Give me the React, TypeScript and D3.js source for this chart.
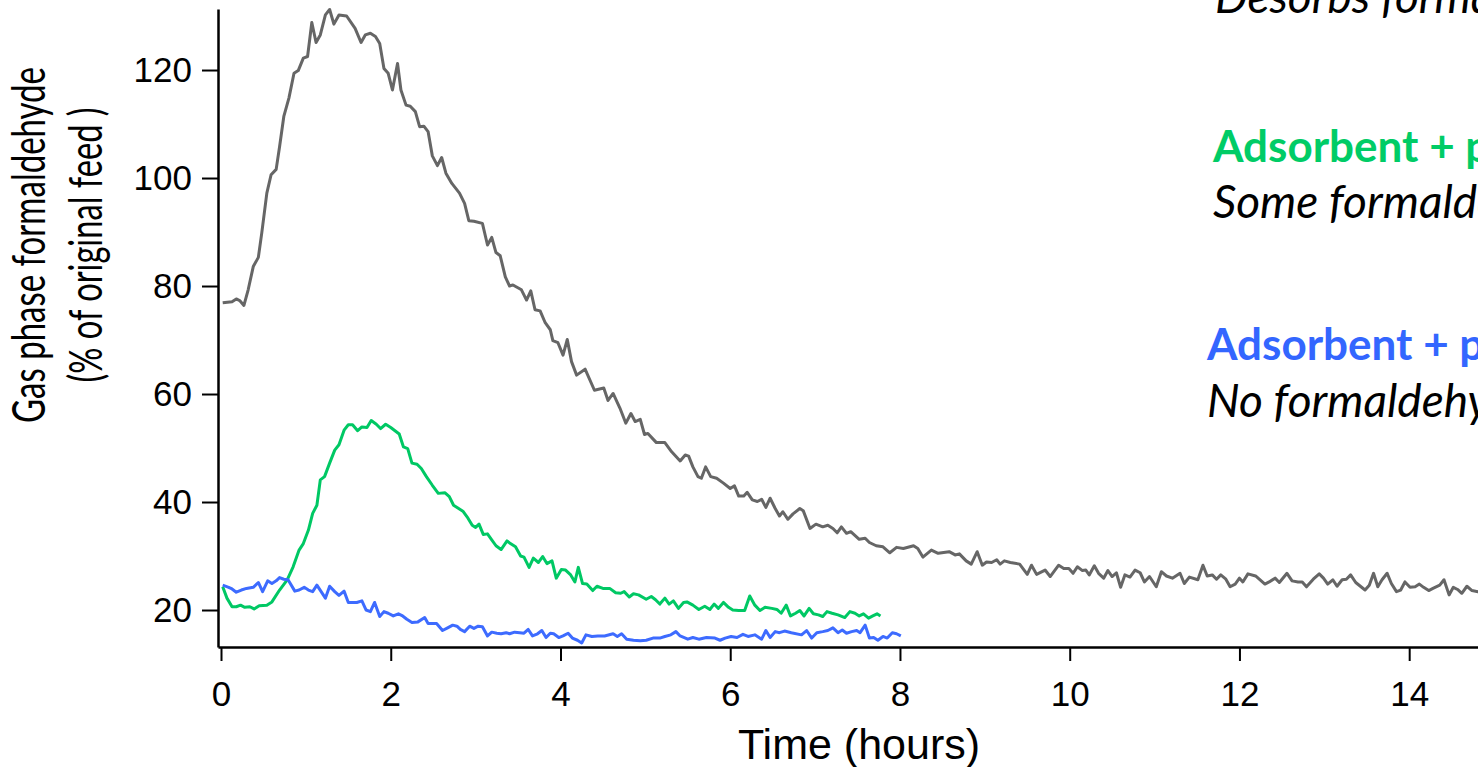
import React, { useEffect, useRef } from "react";
import * as d3 from "d3";

// [time (hours), gas phase formaldehyde (% of original feed)]
const adsorbentOnly: [number, number][] = [
  [0.02, 76.9], [0.13, 77.1], [0.18, 77.6], [0.22, 77.3], [0.27, 76.4], [0.32, 79.3], [0.38, 83.6],
  [0.44, 85.3], [0.48, 89.8], [0.54, 97.2], [0.59, 100.6], [0.65, 101.6], [0.69, 105.8], [0.74, 111.4],
  [0.8, 114.8], [0.86, 119.4], [0.91, 119.9], [0.97, 122.2], [1.02, 122.5], [1.07, 128.8], [1.12, 125.1],
  [1.17, 126.5], [1.23, 130.2], [1.28, 131.2], [1.33, 128.5], [1.39, 130.2], [1.48, 130.0], [1.58, 127.7],
  [1.65, 125.1], [1.7, 126.5], [1.76, 126.8], [1.82, 126.2], [1.87, 124.9], [1.92, 120.3], [1.97, 119.4],
  [2.02, 116.3], [2.08, 121.2], [2.12, 116.3], [2.18, 113.5], [2.23, 113.3], [2.29, 112.3], [2.34, 109.5],
  [2.39, 109.6], [2.44, 108.6], [2.49, 104.1], [2.55, 102.3], [2.6, 103.8], [2.65, 100.9], [2.72, 99.0],
  [2.81, 97.2], [2.87, 95.3], [2.92, 92.1], [2.98, 92.0], [3.08, 91.6], [3.14, 87.6], [3.19, 89.0],
  [3.24, 86.2], [3.29, 85.6], [3.35, 81.7], [3.4, 80.0], [3.44, 80.2], [3.54, 79.3], [3.6, 77.4],
  [3.65, 79.1], [3.7, 75.6], [3.76, 75.4], [3.82, 73.2], [3.88, 71.9], [3.91, 69.9], [3.97, 69.5],
  [4.03, 67.2], [4.08, 70.1], [4.13, 66.0], [4.19, 63.5], [4.29, 64.6], [4.4, 60.7], [4.51, 61.1],
  [4.56, 58.8], [4.62, 60.1], [4.7, 57.4], [4.77, 54.6], [4.83, 56.4], [4.88, 54.9], [4.94, 55.3],
  [4.99, 52.5], [5.03, 52.7], [5.13, 51.0], [5.23, 51.0], [5.31, 49.3], [5.41, 47.6], [5.47, 48.7],
  [5.51, 48.5], [5.56, 46.5], [5.62, 44.7], [5.66, 44.4], [5.71, 46.5], [5.77, 44.7], [5.84, 44.4],
  [5.92, 43.5], [6.0, 42.5], [6.05, 43.0], [6.1, 41.1], [6.16, 41.1], [6.2, 41.8], [6.26, 40.4],
  [6.32, 40.1], [6.37, 40.5], [6.42, 39.0], [6.47, 40.7], [6.53, 38.8], [6.58, 37.4], [6.62, 38.2],
  [6.68, 36.8], [6.74, 37.8], [6.82, 38.8], [6.86, 38.4], [6.94, 35.1], [7.01, 35.9], [7.09, 35.4],
  [7.15, 35.7], [7.21, 35.1], [7.26, 34.3], [7.31, 35.4], [7.37, 34.2], [7.42, 34.5], [7.52, 33.1],
  [7.59, 33.3], [7.64, 32.5], [7.72, 31.9], [7.8, 31.7], [7.88, 30.6], [7.96, 31.6], [8.04, 31.4],
  [8.16, 31.9], [8.21, 31.4], [8.27, 29.8], [8.37, 31.1], [8.45, 30.5], [8.58, 30.8], [8.65, 30.2],
  [8.7, 30.4], [8.78, 29.1], [8.84, 28.5], [8.91, 30.8], [8.97, 28.3], [9.02, 28.9], [9.08, 28.8],
  [9.14, 29.3], [9.18, 28.5], [9.23, 29.1], [9.3, 28.8], [9.41, 28.5], [9.5, 26.6], [9.55, 28.3],
  [9.61, 26.6], [9.71, 27.4], [9.77, 26.2], [9.87, 28.3], [9.93, 27.7], [9.99, 27.7], [10.04, 26.8],
  [10.09, 28.0], [10.15, 27.3], [10.19, 27.4], [10.23, 26.5], [10.29, 28.2], [10.34, 26.8], [10.4, 25.9],
  [10.45, 27.3], [10.5, 26.2], [10.55, 26.9], [10.6, 24.2], [10.65, 26.5], [10.71, 26.1], [10.77, 27.4],
  [10.83, 26.9], [10.88, 25.2], [10.94, 26.2], [11.02, 24.3], [11.08, 27.1], [11.14, 26.3], [11.21, 25.9],
  [11.3, 26.8], [11.35, 24.9], [11.41, 26.1], [11.51, 25.6], [11.57, 28.3], [11.62, 26.3], [11.68, 26.5],
  [11.73, 25.7], [11.78, 26.5], [11.84, 25.7], [11.89, 24.3], [11.95, 24.8], [12.0, 25.9], [12.04, 25.2],
  [12.1, 26.7], [12.19, 26.3], [12.3, 24.8], [12.35, 25.2], [12.42, 25.9], [12.47, 25.1], [12.56, 26.8],
  [12.62, 25.4], [12.69, 25.2], [12.74, 25.2], [12.79, 24.3], [12.87, 25.7], [12.94, 26.7], [12.99, 25.9],
  [13.04, 24.8], [13.1, 25.6], [13.15, 24.4], [13.21, 25.6], [13.26, 25.7], [13.31, 26.5], [13.37, 25.1],
  [13.48, 23.7], [13.53, 24.6], [13.58, 26.8], [13.63, 24.3], [13.68, 25.6], [13.74, 26.8], [13.79, 24.9],
  [13.85, 23.4], [13.9, 23.7], [13.95, 25.2], [14.01, 24.2], [14.07, 24.3], [14.12, 24.8], [14.17, 24.2],
  [14.23, 23.6], [14.28, 24.0], [14.36, 24.6], [14.41, 25.6], [14.47, 22.8], [14.52, 24.2], [14.57, 23.8],
  [14.62, 23.1], [14.68, 24.4], [14.74, 23.6], [14.81, 23.4], [14.9, 23.9],
];

const adsorbentDark: [number, number][] = [
  [0.02, 24.3], [0.07, 22.2], [0.13, 20.6], [0.18, 20.6], [0.23, 20.9], [0.28, 20.5], [0.34, 20.6],
  [0.39, 20.2], [0.45, 20.8], [0.54, 20.9], [0.6, 21.5], [0.69, 23.7], [0.78, 25.6], [0.85, 28.0],
  [0.92, 31.1], [0.97, 32.3], [1.03, 34.8], [1.08, 37.9], [1.13, 39.4], [1.17, 44.1], [1.22, 44.7],
  [1.28, 47.2], [1.34, 49.6], [1.39, 50.6], [1.45, 53.3], [1.5, 54.3], [1.55, 54.3], [1.61, 53.2],
  [1.66, 53.9], [1.72, 53.8], [1.77, 55.1], [1.83, 54.4], [1.88, 53.6], [1.94, 54.4], [2.0, 53.8],
  [2.05, 53.2], [2.1, 52.6], [2.15, 50.2], [2.2, 49.9], [2.25, 47.2], [2.31, 47.0], [2.36, 46.2],
  [2.42, 44.7], [2.49, 43.1], [2.56, 41.6], [2.64, 41.7], [2.69, 41.0], [2.74, 39.4], [2.8, 38.8],
  [2.85, 38.3], [2.91, 37.0], [2.96, 35.7], [3.0, 35.3], [3.04, 35.9], [3.09, 34.0], [3.14, 34.1],
  [3.19, 33.0], [3.24, 31.9], [3.3, 31.2], [3.37, 32.8], [3.41, 32.3], [3.47, 31.7], [3.53, 30.0],
  [3.57, 29.8], [3.63, 27.9], [3.68, 29.6], [3.74, 28.8], [3.79, 29.9], [3.84, 28.6], [3.9, 29.1],
  [3.95, 25.9], [4.01, 27.5], [4.06, 27.4], [4.12, 26.5], [4.17, 25.2], [4.21, 27.9], [4.26, 24.9],
  [4.31, 24.8], [4.38, 23.6], [4.43, 24.4], [4.5, 24.0], [4.58, 24.0], [4.65, 23.2], [4.71, 23.1],
  [4.75, 23.4], [4.81, 22.4], [4.86, 23.0], [4.92, 22.8], [5.01, 22.0], [5.07, 22.5], [5.12, 21.9],
  [5.17, 21.1], [5.23, 22.2], [5.28, 21.1], [5.33, 21.7], [5.39, 20.3], [5.45, 21.4], [5.49, 21.5],
  [5.56, 20.9], [5.63, 20.1], [5.7, 20.7], [5.76, 20.1], [5.81, 21.1], [5.86, 20.3], [5.92, 21.4],
  [5.98, 20.5], [6.03, 20.0], [6.1, 19.9], [6.17, 19.9], [6.23, 22.6], [6.29, 20.9], [6.35, 19.9],
  [6.41, 20.5], [6.49, 20.3], [6.55, 20.1], [6.6, 19.4], [6.66, 20.9], [6.71, 18.9], [6.77, 19.4],
  [6.82, 19.9], [6.87, 18.9], [6.93, 20.3], [6.98, 19.3], [7.04, 19.1], [7.09, 18.8], [7.14, 19.7],
  [7.2, 19.4], [7.27, 19.1], [7.35, 18.6], [7.41, 19.7], [7.47, 19.4], [7.52, 18.9], [7.57, 19.3],
  [7.63, 18.5], [7.68, 18.9], [7.73, 19.3], [7.77, 18.9],
];

const adsorbentUV: [number, number][] = [
  [0.02, 24.6], [0.09, 24.2], [0.13, 23.9], [0.18, 23.3], [0.24, 23.7], [0.3, 24.0], [0.38, 24.2],
  [0.44, 25.1], [0.49, 23.4], [0.55, 25.4], [0.6, 24.9], [0.65, 25.4], [0.69, 26.0], [0.74, 25.7],
  [0.79, 25.6], [0.87, 23.5], [0.92, 23.7], [0.98, 24.2], [1.03, 23.7], [1.08, 23.4], [1.13, 24.6],
  [1.18, 23.4], [1.23, 22.2], [1.28, 24.4], [1.34, 23.4], [1.39, 22.7], [1.45, 23.5], [1.5, 21.4],
  [1.6, 21.4], [1.66, 21.7], [1.71, 20.0], [1.76, 19.7], [1.81, 21.4], [1.87, 18.8], [1.92, 19.7],
  [1.97, 19.4], [2.03, 18.9], [2.09, 19.3], [2.14, 18.9], [2.19, 18.3], [2.25, 17.7], [2.32, 17.8],
  [2.4, 18.6], [2.44, 17.5], [2.54, 17.5], [2.61, 16.2], [2.67, 16.7], [2.73, 17.2], [2.78, 17.0],
  [2.82, 16.4], [2.87, 16.0], [2.93, 17.0], [2.98, 16.6], [3.03, 17.0], [3.08, 16.9], [3.14, 15.2],
  [3.19, 15.9], [3.25, 15.7], [3.3, 15.6], [3.36, 15.8], [3.4, 15.6], [3.46, 15.9], [3.52, 15.8],
  [3.57, 15.7], [3.62, 16.4], [3.67, 15.2], [3.73, 15.6], [3.78, 16.2], [3.83, 14.9], [3.88, 15.7],
  [3.92, 15.6], [3.98, 14.9], [4.03, 15.2], [4.09, 15.7], [4.14, 14.8], [4.2, 14.4], [4.25, 13.9],
  [4.3, 15.4], [4.37, 15.1], [4.44, 15.2], [4.52, 15.2], [4.62, 15.6], [4.67, 15.1], [4.72, 15.6],
  [4.78, 14.6], [4.86, 14.4], [4.94, 14.3], [5.01, 14.4], [5.09, 14.8], [5.17, 14.8], [5.23, 15.1],
  [5.3, 15.4], [5.36, 16.0], [5.41, 15.2], [5.5, 14.6], [5.56, 14.9], [5.63, 14.6], [5.72, 14.9],
  [5.82, 14.8], [5.88, 14.4], [5.94, 14.8], [6.01, 15.1], [6.08, 14.9], [6.15, 15.5], [6.21, 15.1],
  [6.29, 15.4], [6.37, 14.6], [6.42, 16.2], [6.47, 14.9], [6.53, 16.0], [6.58, 15.8], [6.64, 16.1],
  [6.72, 15.8], [6.84, 15.4], [6.9, 16.2], [6.96, 14.8], [7.02, 15.8], [7.09, 16.0], [7.15, 16.2],
  [7.21, 16.7], [7.27, 15.8], [7.32, 16.3], [7.37, 15.7], [7.43, 16.0], [7.49, 16.2], [7.53, 15.8],
  [7.59, 17.2], [7.64, 14.8], [7.69, 14.9], [7.74, 14.4], [7.8, 15.1], [7.85, 14.8], [7.91, 15.8],
  [7.96, 15.6], [8.01, 15.2],
];

const xTicks = [0, 2, 4, 6, 8, 10, 12, 14];
const yTicks = [20, 40, 60, 80, 100, 120];

const yTitle = ["Gas phase formaldehyde", "(% of original feed )"];
const xTitle = "Time (hours)";

const noteHeads = ["Adsorbent + photocatalyst (dark)", "Adsorbent + photocatalyst (UV)"];
const noteBodies = ["Desorbs formaldehyde", "Some formaldehyde desorbs", "No formaldehyde desorbs"];

const GREY = "#666666";
const GREEN = "#00c864";
const BLUE = "#3d6bff";
const GREEN_TEXT = "#00cc66";
const BLUE_TEXT = "#3366ff";

export default function App() {
  const ref = useRef<SVGSVGElement>(null);

  useEffect(() => {
    const svg = d3.select(ref.current);
    svg.selectAll("*").remove();

    // x: 0 h sits a few px right of the y axis line
    const x = d3.scaleLinear().domain([-0.0354, 15.07]).range([218, 1500]);
    const y = d3.scaleLinear().domain([13.15, 131.3]).range([647, 9]);

    const tickFont = "'Liberation Sans', Arial, sans-serif";

    // y axis
    const gy = svg
      .append("g")
      .attr("transform", "translate(218,0)")
      .call(d3.axisLeft(y).tickValues(yTicks).tickSize(16).tickPadding(10).tickSizeOuter(0));
    gy.select(".domain").attr("stroke", "#000").attr("stroke-width", 2.5);
    gy.selectAll(".tick line").attr("stroke", "#000").attr("stroke-width", 2);
    gy.selectAll(".tick text")
      .attr("fill", "#000")
      .style("font-family", tickFont)
      .style("font-size", "35px");

    // x axis
    const gx = svg
      .append("g")
      .attr("transform", "translate(0,647)")
      .call(d3.axisBottom(x).tickValues(xTicks).tickSize(14).tickPadding(20).tickSizeOuter(0));
    gx.select(".domain").attr("stroke", "#000").attr("stroke-width", 2.5);
    gx.selectAll(".tick line").attr("stroke", "#000").attr("stroke-width", 2);
    gx.selectAll(".tick text")
      .attr("fill", "#000")
      .style("font-family", tickFont)
      .style("font-size", "35px");

    // series
    const line = d3
      .line<[number, number]>()
      .x(d => x(d[0]))
      .y(d => y(d[1]));

    const series: [[number, number][], string][] = [
      [adsorbentOnly, GREY],
      [adsorbentDark, GREEN],
      [adsorbentUV, BLUE],
    ];
    series.forEach(([data, colour]) => {
      svg
        .append("path")
        .datum(data)
        .attr("d", line)
        .attr("fill", "none")
        .attr("stroke", colour)
        .attr("stroke-width", 3)
        .attr("stroke-linejoin", "round");
    });

    // axis titles
    svg
      .append("text")
      .attr("x", 859)
      .attr("y", 759)
      .attr("text-anchor", "middle")
      .style("font-family", tickFont)
      .style("font-size", "43px")
      .text(xTitle);

    const titleFont = "Lato, 'Open Sans', sans-serif";
    const lens = [356, 275];
    const baselines = [45, 102];
    yTitle.forEach((t, i) => {
      svg
        .append("text")
        .attr("transform", `translate(${baselines[i]},245) scale(1.3,1) rotate(-90)`)
        .attr("text-anchor", "middle")
        .attr("textLength", lens[i])
        .attr("lengthAdjust", "spacingAndGlyphs")
        .style("font-family", titleFont)
        .style("font-size", "36px")
        .text(t);
    });

    // notes on the right (cut off by the frame, as in the source figure)
    const note = (t: string, xx: number, yy: number, colour: string, bold: boolean) =>
      svg
        .append("text")
        .attr("x", xx)
        .attr("y", yy)
        .attr("fill", colour)
        .style("font-family", titleFont)
        .style("font-size", bold ? "44px" : "46px")
        .style("font-weight", bold ? "bold" : "normal")
        .style("font-style", bold ? "normal" : "italic")
        .text(t);

    note(noteBodies[0], 1215, 13, "#000", false);
    note(noteHeads[0], 1213, 162, GREEN_TEXT, true);
    note(noteBodies[1], 1213, 218, "#000", false);
    note(noteHeads[1], 1207, 360, BLUE_TEXT, true);
    note(noteBodies[2], 1207, 417, "#000", false);
  }, []);

  return (
    <svg
      ref={ref}
      width={1478}
      height={767}
      style={{ position: "absolute", left: 0, top: 0, background: "#fff", display: "block" }}
    />
  );
}
